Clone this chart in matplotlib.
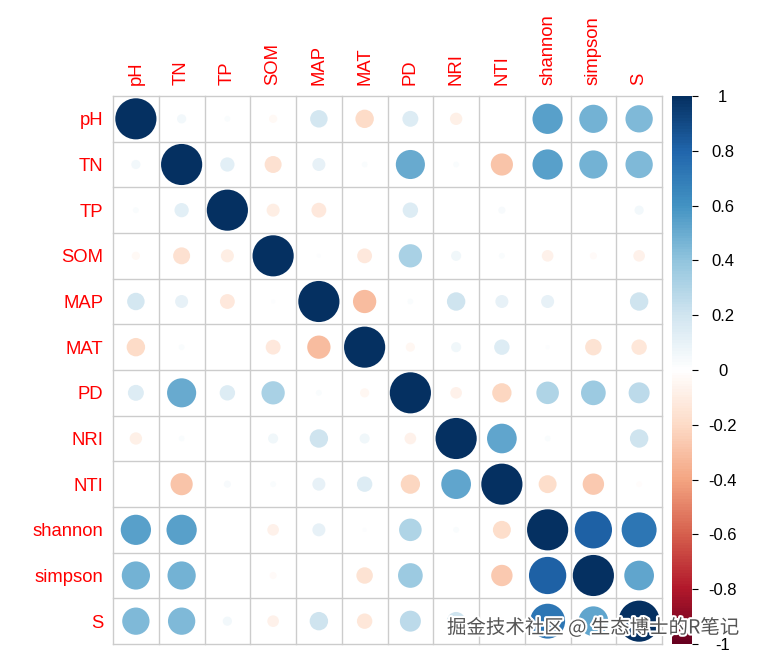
import matplotlib.pyplot as plt
import matplotlib.patheffects as pe
import numpy as np
from matplotlib.collections import PatchCollection
from matplotlib.colors import LinearSegmentedColormap
from matplotlib.patches import Circle

labels = ["pH", "TN", "TP", "SOM", "MAP", "MAT", "PD", "NRI", "NTI",
          "shannon", "simpson", "S"]

# correlation matrix, rows in the same order as labels
corr = [
    [1.00, 0.05, 0.02, -0.04, 0.18, -0.20, 0.15, -0.09, 0.00, 0.54, 0.47, 0.44],
    [0.05, 1.00, 0.12, -0.17, 0.10, 0.02, 0.50, 0.02, -0.29, 0.54, 0.47, 0.44],
    [0.02, 0.12, 1.00, -0.10, -0.13, 0.00, 0.14, 0.00, 0.03, 0.00, 0.00, 0.05],
    [-0.04, -0.17, -0.10, 1.00, 0.01, -0.13, 0.32, 0.06, 0.02, -0.08, -0.03, -0.08],
    [0.18, 0.10, -0.13, 0.01, 1.00, -0.32, 0.02, 0.20, 0.10, 0.10, 0.00, 0.20],
    [-0.20, 0.02, 0.00, -0.13, -0.32, 1.00, -0.05, 0.06, 0.14, 0.01, -0.16, -0.14],
    [0.15, 0.50, 0.14, 0.32, 0.02, -0.05, 1.00, -0.08, -0.22, 0.30, 0.36, 0.26],
    [-0.09, 0.02, 0.00, 0.06, 0.20, 0.06, -0.08, 1.00, 0.52, 0.02, 0.00, 0.20],
    [0.00, -0.29, 0.03, 0.02, 0.10, 0.14, -0.22, 0.52, 1.00, -0.19, -0.27, -0.02],
    [0.54, 0.54, 0.00, -0.08, 0.10, 0.01, 0.30, 0.02, -0.19, 1.00, 0.82, 0.72],
    [0.47, 0.47, 0.00, -0.03, 0.00, -0.16, 0.36, 0.00, -0.27, 0.82, 1.00, 0.52],
    [0.44, 0.44, 0.05, -0.08, 0.20, -0.14, 0.26, 0.20, -0.02, 0.72, 0.52, 1.00],
]

cbar_ticks = [1, 0.8, 0.6, 0.4, 0.2, 0, -0.2, -0.4, -0.6, -0.8, -1]
cbar_labels = ["1", "0.8", "0.6", "0.4", "0.2", "0", "-0.2", "-0.4", "-0.6", "-0.8", "-1"]

plt.rcParams["font.family"] = ["Liberation Sans", "DejaVu Sans"]

# corrplot's default RdBu palette
cmap = LinearSegmentedColormap.from_list(
    "rdbu", ["#67001F", "#B2182B", "#D6604D", "#F4A582", "#FDDBC7", "#FFFFFF",
             "#D1E5F0", "#92C5DE", "#4393C3", "#2166AC", "#053061"], N=200)

mat = np.array(corr)
n = len(labels)

fig = plt.figure(figsize=(7.6, 6.57), dpi=100)
ax = fig.add_axes([113 / 760, 13 / 657, 549 / 760, 548 / 657])

circles = []
vals = []
for i in range(n):
    for j in range(n):
        r = mat[i, j]
        circles.append(Circle((j + 0.5, i + 0.5), 0.45 * np.sqrt(abs(r))))
        vals.append(r)
pc = PatchCollection(circles, cmap=cmap, edgecolor="none")
pc.set_array(np.array(vals))
pc.set_clim(-1, 1)
ax.add_collection(pc)

# cell borders
for k in range(n + 1):
    ax.axhline(k, color="#cccccc", lw=1, clip_on=False, zorder=0)
    ax.axvline(k, color="#cccccc", lw=1, clip_on=False, zorder=0)

ax.set_xlim(0, n)
ax.set_ylim(n, 0)
for s in ax.spines.values():
    s.set_visible(False)

ax.set_xticks(np.arange(n) + 0.5)
ax.set_xticklabels(labels, rotation=90, color="red", fontsize=13.3)
ax.xaxis.tick_top()
ax.set_yticks(np.arange(n) + 0.5)
ax.set_yticklabels(labels, color="red", fontsize=13.3)
ax.tick_params(axis="x", length=0, pad=8)
ax.tick_params(axis="y", length=0, pad=7)

cax = fig.add_axes([672 / 760, 13 / 657, 20 / 760, 548 / 657])
cb = fig.colorbar(pc, cax=cax)
cb.outline.set_visible(False)
cb.set_ticks(cbar_ticks)
cb.set_ticklabels(cbar_labels)
cax.tick_params(length=4, width=0.8, labelsize=12, pad=18)
for t in cax.get_yticklabels():
    t.set_horizontalalignment("center")

fig.text(447 / 760, 29 / 657, "掘金技术社区 @ 生态博士的R笔记",
         family=["Noto Sans CJK SC", "DejaVu Sans"], fontsize=14,
         color="#555555", ha="left", va="center",
         path_effects=[pe.withStroke(linewidth=3, foreground="white")])

fig.savefig("out.png", dpi=100)
